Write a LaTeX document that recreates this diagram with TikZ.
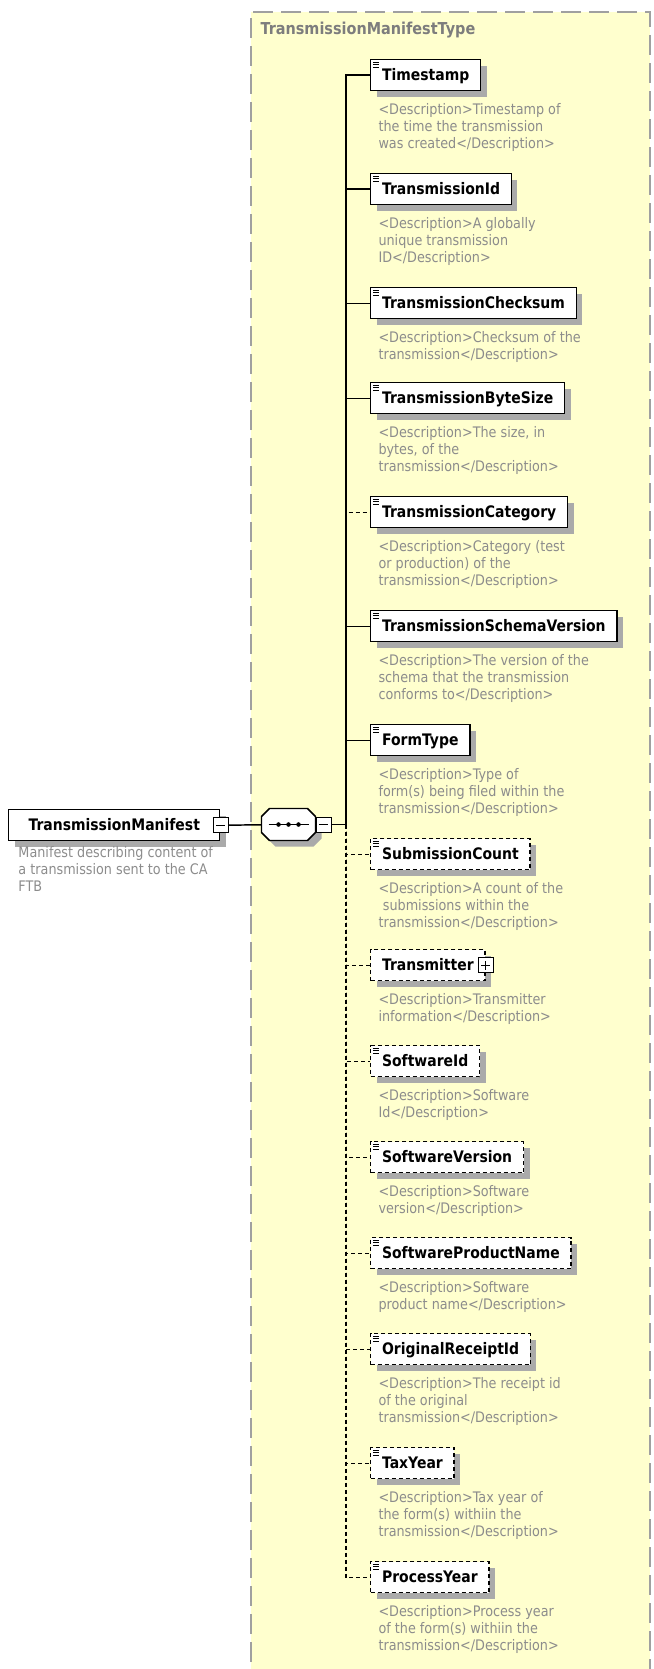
\documentclass[tikz,border=0pt]{standalone}
\usepackage{fontspec}
\setmainfont{DejaVu Sans}[FakeStretch=0.88]
\usetikzlibrary{shadows}

\definecolor{typefill}{RGB}{255,255,206}
\definecolor{typeedge}{RGB}{160,160,160}
\definecolor{desctext}{RGB}{140,140,140}
\definecolor{titletext}{RGB}{125,125,125}
\definecolor{shadowgray}{RGB}{170,170,170}

\tikzset{every picture/.style={line width=0.75pt}}
\tikzset{
	elbox/.style={draw, fill=white, line width=1.1pt, anchor=north west, minimum height=23.25pt, inner xsep=8.5pt, inner ysep=0pt, text height=8.6pt, text depth=0pt, font=\bfseries\fontsize{11.9}{13}\selectfont, general shadow={fill=shadowgray, shadow xshift=4.5pt, shadow yshift=-4.5pt}},
	elicon/.style={elbox, path picture={\foreach \k in {0,1,2} \draw[solid, line width=0.6pt] ([xshift=1.6pt, yshift={-1.9pt-1.8pt*\k}]path picture bounding box.north west) -- ++(4.5pt,0);}},
	opt/.style={dash pattern=on 3pt off 2.25pt},
	conn/.style={line width=1.1pt},
	optconn/.style={conn, dash pattern=on 3pt off 2.25pt},
	btnminus/.style={draw, solid, fill=white, line width=0.6pt, minimum size=11.25pt, inner sep=0pt, path picture={\draw[line width=0.6pt] ([xshift=2.3pt]path picture bounding box.west) -- ([xshift=-2.3pt]path picture bounding box.east);}},
	btnplus/.style={draw, solid, fill=white, line width=0.6pt, minimum size=11.25pt, inner sep=0pt, path picture={\draw[line width=0.6pt] ([xshift=2.3pt]path picture bounding box.west) -- ([xshift=-2.3pt]path picture bounding box.east) ([yshift=2.3pt]path picture bounding box.south) -- ([yshift=-2.3pt]path picture bounding box.north);}},
	seqbox/.style={minimum width=39.75pt, minimum height=23.25pt, inner sep=0pt},
	seqedge/.style={draw, fill=white, line width=1.1pt, general shadow={fill=shadowgray, shadow xshift=4.5pt, shadow yshift=-4.5pt}},
	desc/.style={anchor=north west, inner sep=0pt, align=left, text=desctext, font=\fontsize{10.9}{12.75}\selectfont},
	typetitle/.style={anchor=base west, inner sep=0pt, text=titletext, font=\bfseries\fontsize{12.3}{14}\selectfont}
}

\begin{document}
\begin{tikzpicture}[x=0.75pt,y=0.75pt,yscale=-1]
	\useasboundingbox (0,0) rectangle (653,1669);

	%Shape: Type box
	\fill[typefill] (251,12) rectangle (650,1690);
	\draw[typeedge, line width=1.5pt, dash pattern=on 15pt off 6pt] (251,1690) -- (251,12) -- (650,12) -- (650,1690);
	% Text Node
	\node[typetitle] (typeName) at (260,35) {TransmissionManifestType};

	% Text Node
	\node[elbox, minimum width=158.25pt] (manifest) at (8,809) {TransmissionManifest};
	\node[btnminus] (manifestBtn) at (manifest.east) {};
	\node[desc] (manifestDesc) at (18,846) {Manifest describing content of\\a transmission sent to the CA\\FTB};

	%Shape: Sequence
	\node[seqbox] (seq) at (288.5,824.5) {};
	\draw[seqedge] ([xshift=6pt]seq.north west) -- ([xshift=-6pt]seq.north east) -- ([yshift=6pt]seq.north east) -- ([yshift=-6pt]seq.south east) -- ([xshift=-6pt]seq.south east) -- ([xshift=6pt]seq.south west) -- ([yshift=-6pt]seq.south west) -- ([yshift=6pt]seq.north west) -- cycle;
	\draw[line width=1pt] ([xshift=-15pt]seq.center) -- ([xshift=15pt]seq.center);
	\fill ([xshift=-7.5pt]seq.center) circle (1.7pt);
	\fill (seq.center) circle (1.7pt);
	\fill ([xshift=7.5pt]seq.center) circle (1.7pt);
	\node[btnminus, anchor=west] (seqBtn) at (seq.east) {};
	\coordinate (spine) at (346,824.5);

	%Straight Lines
	\draw[conn] (manifestBtn) -- (seq);
	\draw[conn] (seqBtn) -- (spine);

	% Text Node
	\node[elicon] (timestamp) at (370,59) {Timestamp};
	\node[desc] (timestampDesc) at (378,103) {<Description>Timestamp of\\the time the transmission\\was created</Description>};
	% Text Node
	\node[elicon] (transId) at (370,173) {TransmissionId};
	\node[desc] (transIdDesc) at (378,217) {<Description>A globally\\unique transmission\\ID</Description>};
	% Text Node
	\node[elicon] (checksum) at (370,287) {TransmissionChecksum};
	\node[desc] (checksumDesc) at (378,331) {<Description>Checksum of the\\transmission</Description>};
	% Text Node
	\node[elicon] (byteSize) at (370,382) {TransmissionByteSize};
	\node[desc] (byteSizeDesc) at (378,426) {<Description>The size, in\\bytes, of the\\transmission</Description>};
	% Text Node
	\node[elicon] (category) at (370,496) {TransmissionCategory};
	\node[desc] (categoryDesc) at (378,540) {<Description>Category (test\\or production) of the\\transmission</Description>};
	% Text Node
	\node[elicon] (schemaVer) at (370,610) {TransmissionSchemaVersion};
	\node[desc] (schemaVerDesc) at (378,654) {<Description>The version of the\\schema that the transmission\\conforms to</Description>};
	% Text Node
	\node[elicon] (formType) at (370,724) {FormType};
	\node[desc] (formTypeDesc) at (378,768) {<Description>Type of\\form(s) being filed within the\\transmission</Description>};
	% Text Node
	\node[elicon, opt] (subCount) at (370,838) {SubmissionCount};
	\node[desc] (subCountDesc) at (378,882) {<Description>A count of the\\\hspace{0.3em}submissions within the\\transmission</Description>};
	% Text Node
	\node[elbox, opt] (transmitter) at (370,949) {Transmitter\hspace{4pt}};
	\node[btnplus] (transmitterBtn) at (transmitter.east) {};
	\node[desc] (transmitterDesc) at (378,993) {<Description>Transmitter\\information</Description>};
	% Text Node
	\node[elicon, opt] (softId) at (370,1045) {SoftwareId};
	\node[desc] (softIdDesc) at (378,1089) {<Description>Software\\Id</Description>};
	% Text Node
	\node[elicon, opt] (softVer) at (370,1141) {SoftwareVersion};
	\node[desc] (softVerDesc) at (378,1185) {<Description>Software\\version</Description>};
	% Text Node
	\node[elicon, opt] (prodName) at (370,1237) {SoftwareProductName};
	\node[desc] (prodNameDesc) at (378,1281) {<Description>Software\\product name</Description>};
	% Text Node
	\node[elicon, opt] (receiptId) at (370,1333) {OriginalReceiptId};
	\node[desc] (receiptIdDesc) at (378,1377) {<Description>The receipt id\\of the original\\transmission</Description>};
	% Text Node
	\node[elicon, opt] (taxYear) at (370,1447) {TaxYear};
	\node[desc] (taxYearDesc) at (378,1491) {<Description>Tax year of\\the form(s) withiin the\\transmission</Description>};
	% Text Node
	\node[elicon, opt] (procYear) at (370,1561) {ProcessYear};
	\node[desc] (procYearDesc) at (378,1605) {<Description>Process year\\of the form(s) withiin the\\transmission</Description>};

	%Straight Lines
	\draw[conn] (spine) |- (timestamp);
	\draw[conn] (spine) |- (transId);
	\draw[conn] (spine) |- (checksum);
	\draw[conn] (spine) |- (byteSize);
	\draw[optconn] (spine) |- (category);
	\draw[conn] (spine) |- (schemaVer);
	\draw[conn] (spine) |- (formType);
	\draw[optconn] (spine) |- (subCount);
	\draw[optconn] (spine) |- (transmitter);
	\draw[optconn] (spine) |- (softId);
	\draw[optconn] (spine) |- (softVer);
	\draw[optconn] (spine) |- (prodName);
	\draw[optconn] (spine) |- (receiptId);
	\draw[optconn] (spine) |- (taxYear);
	\draw[optconn] (spine) |- (procYear);

\end{tikzpicture}
\end{document}
